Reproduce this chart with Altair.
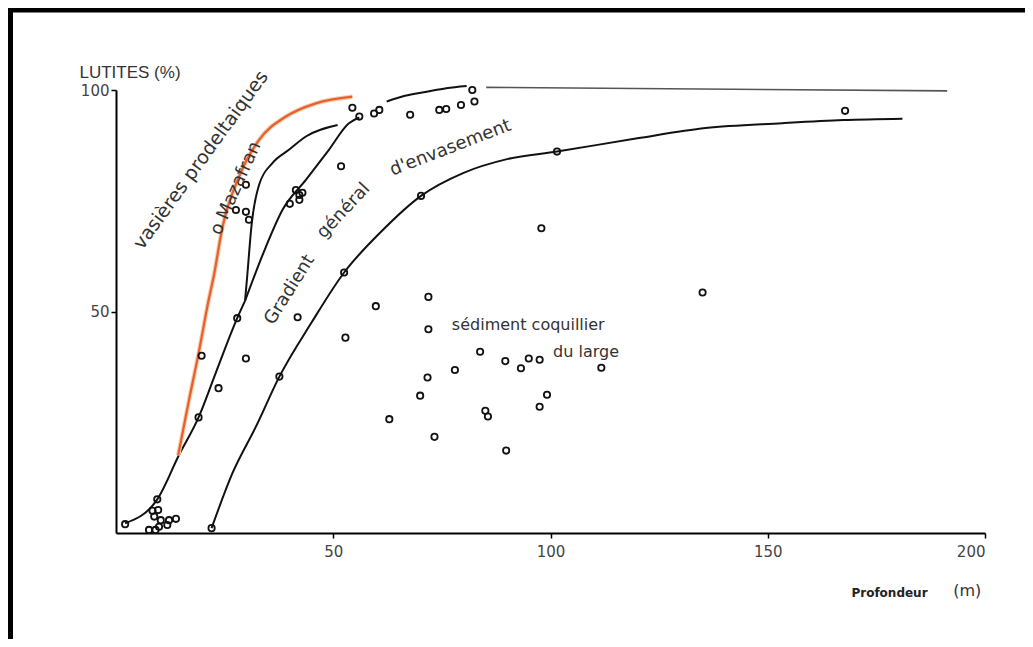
import altair as alt
import pandas as pd

# ---------------- data ----------------
# sample points: depth (m) and lutites (%)
pt_x = [82, 82.5, 79.4, 74.4, 76, 67.7, 59.4, 60.6, 56, 54.4,
        51.8, 70.2, 52.5, 71.9, 59.8, 29.9, 27.6, 29.9, 30.6, 40, 41.4, 42.2, 42.9, 42.2,
        27.9, 41.8, 71.9, 52.8, 83.8, 78, 71.7, 70, 85, 85.6, 62.9, 73.3,
        19.7, 29.9, 23.6, 19, 37.6, 9.5, 2.1, 22,
        8.4, 9.7, 8.8, 10.3, 12.2, 13.8, 11.8, 9.9, 7.6, 9.1,
        167.8, 101.5, 97.9, 135, 89.6, 93.2, 95, 97.5, 111.7, 99.2, 97.5, 89.8]
pt_y = [100, 97.4, 96.6, 95.5, 95.7, 94.4, 94.7, 95.5, 94, 96,
        82.8, 76.1, 58.8, 53.3, 51.2, 78.6, 72.9, 72.5, 70.7, 74.3, 77.4, 76.3, 76.8, 75.2,
        48.5, 48.7, 46, 44.1, 40.9, 36.8, 35.1, 31, 27.6, 26.3, 25.7, 21.7,
        40, 39.4, 32.7, 26.1, 35.3, 7.6, 2, 1.1,
        5, 5.2, 3.7, 2.9, 2.9, 3.2, 1.8, 1.4, 0.7, 0.7,
        95.3, 86.1, 68.8, 54.3, 38.8, 37.2, 39.4, 39.1, 37.3, 31.2, 28.5, 18.6]

# curves
orange_x = [14.3, 16.8, 19.1, 21.2, 22.5, 24.5, 28.3, 32.9, 39.1, 46, 54.4]
orange_y = [17.5, 30, 41, 52, 58, 69, 80.4, 88.7, 94, 97, 98.5]

base_x = [2.1, 9.5, 14.5, 19, 22.9, 27.9, 29.7]
base_y = [2.2, 7.6, 17.6, 26.1, 36, 48.5, 52.4]

steep_x = [29.7, 30.2, 31.2, 32.9, 36, 39.8, 43.7, 51]
steep_y = [52.4, 58, 69.5, 78.5, 83.5, 86.5, 89.5, 92.1]

mid_x = [29.7, 34.5, 38.3, 43.7, 49, 53.6, 56]
mid_y = [52.4, 64.6, 72.9, 79.7, 86.5, 92.5, 93.8]

top_x = [62.3, 66.5, 71.5, 76, 80.7]
top_y = [97.4, 98.7, 99.6, 100.4, 100.9]

low_x = [22, 26.8, 32.2, 37.6, 45, 52.5, 61, 70.2, 80, 90, 101.5, 120, 135.7, 153.3, 167.4, 181]
low_y = [1.1, 13.5, 24, 35.3, 47.5, 58.8, 68, 76.1, 81.3, 84.4, 86.1, 89.1, 91.4, 92.5, 93.2, 93.5]

flat_x = [85.2, 191.3]
flat_y = [100.6, 99.8]

# annotations
ann_text = ["vasières prodeltaiques", "o Mazafran", "Gradient", "général", "d'envasement"]
ann_x = [19.5, 27.6, 40, 52.4, 77]
ann_y = [84.2, 77.8, 54.9, 72.7, 86.9]
ann_angle = [306, 294, 302, 313, 339]
ann_size = [19, 18, 18, 18, 18]

label_text = ["sédiment coquillier", "du large"]
label_x = [77.3, 100.6]
label_y = [47, 40.9]

unit_text = ["(m)"]
unit_x = [195.9]
unit_y = [-13.1]

# ---------------- tables ----------------
points = pd.DataFrame({"x": pt_x, "y": pt_y})

def curve_df(rows):
    out = []
    for name, xs, ys in rows:
        for i, (a, b) in enumerate(zip(xs, ys)):
            out.append({"curve": name, "x": a, "y": b, "i": i})
    return pd.DataFrame(out)

black_curves = curve_df([("base", base_x, base_y), ("steep", steep_x, steep_y),
                         ("mid", mid_x, mid_y), ("top", top_x, top_y), ("low", low_x, low_y)])
orange_curve = curve_df([("orange", orange_x, orange_y)])
flat_curve = curve_df([("flat", flat_x, flat_y)])
ann = pd.DataFrame({"t": ann_text, "x": ann_x, "y": ann_y, "a": ann_angle, "s": ann_size})
labels = pd.DataFrame({"t": label_text, "x": label_x, "y": label_y})
unit = pd.DataFrame({"t": unit_text, "x": unit_x, "y": unit_y})

FONT = "DejaVu Sans"

xscale = alt.Scale(domain=[0, 200], nice=False, zero=False)
yscale = alt.Scale(domain=[0, 100], nice=False, zero=False)

xaxis = alt.Axis(values=[50, 100, 150, 200], grid=False, domainColor="black", domainWidth=2,
                 tickColor="black", tickWidth=1.5, tickSize=5, labelFont=FONT, labelFontSize=15,
                 labelColor="#444", labelPadding=6, title="Profondeur", titleFont=FONT,
                 titleFontSize=12, titleFontWeight="bold", titleColor="#222",
                 titleX=773, titleY=59, titleAlign="center", titleBaseline="middle")
yaxis = alt.Axis(values=[50, 100], grid=False, domainColor="black", domainWidth=2,
                 tickColor="black", tickWidth=1.5, tickSize=5, labelFont=FONT, labelFontSize=15,
                 labelColor="#444", labelPadding=2, title="LUTITES (%)", titleFont="Liberation Sans",
                 titleFontSize=17, titleFontWeight="normal", titleColor="#333", titleAngle=0,
                 titleX=-37, titleY=-18, titleAlign="left", titleBaseline="middle")

X = alt.X("x:Q", scale=xscale, axis=xaxis)
Y = alt.Y("y:Q", scale=yscale, axis=yaxis)

frame_df = pd.DataFrame({"k": [0]})
frame_top = alt.Chart(frame_df).mark_rule(color="black", strokeWidth=5).encode(
    x=alt.value(-110), x2=alt.value(1000), y=alt.value(-80))
frame_left = alt.Chart(frame_df).mark_rule(color="black", strokeWidth=5).encode(
    x=alt.value(-105.5), y=alt.value(-82), y2=alt.value(560))

lines = alt.Chart(black_curves).mark_line(color="#111", strokeWidth=2, interpolate="monotone").encode(
    x=X, y=Y, detail="curve:N", order="i:Q")
flat = alt.Chart(flat_curve).mark_line(color="#555", strokeWidth=1.6).encode(
    x=X, y=Y, order="i:Q")
orange_halo = alt.Chart(orange_curve).mark_line(color="#f8d0b4", strokeWidth=4.5, interpolate="monotone").encode(
    x=X, y=Y, order="i:Q")
orange = alt.Chart(orange_curve).mark_line(color="#e8602a", strokeWidth=2.3, interpolate="monotone").encode(
    x=X, y=Y, order="i:Q")
pts = alt.Chart(points).mark_point(shape="circle", filled=False, color="#111", size=40, strokeWidth=1.8,
                                   opacity=1).encode(x=X, y=Y)
ann_layer = alt.Chart(ann).mark_text(font=FONT, color="#333", align="center",
                                     baseline="middle").encode(
    x=X, y=Y, text="t:N", angle=alt.Angle("a:Q", scale=None), size=alt.Size("s:Q", scale=None))
label_layer = alt.Chart(labels).mark_text(font=FONT, fontSize=16, color="#333", align="left",
                                          baseline="middle").encode(x=X, y=Y, text="t:N")
unit_layer = alt.Chart(unit).mark_text(font=FONT, fontSize=16, color="#333", align="center",
                                       baseline="middle").encode(x=X, y=Y, text="t:N")

chart = alt.layer(lines, flat, orange_halo, orange, pts, ann_layer, label_layer, unit_layer,
                  frame_top, frame_left).properties(
    width=869, height=443,
    autosize=alt.AutoSizeParams(type="none"),
    padding={"left": 108, "top": 82, "right": 40, "bottom": 106},
    background="white",
).configure_view(stroke=None)

chart.save("out.html", embed_options={"renderer": "svg", "actions": False})
